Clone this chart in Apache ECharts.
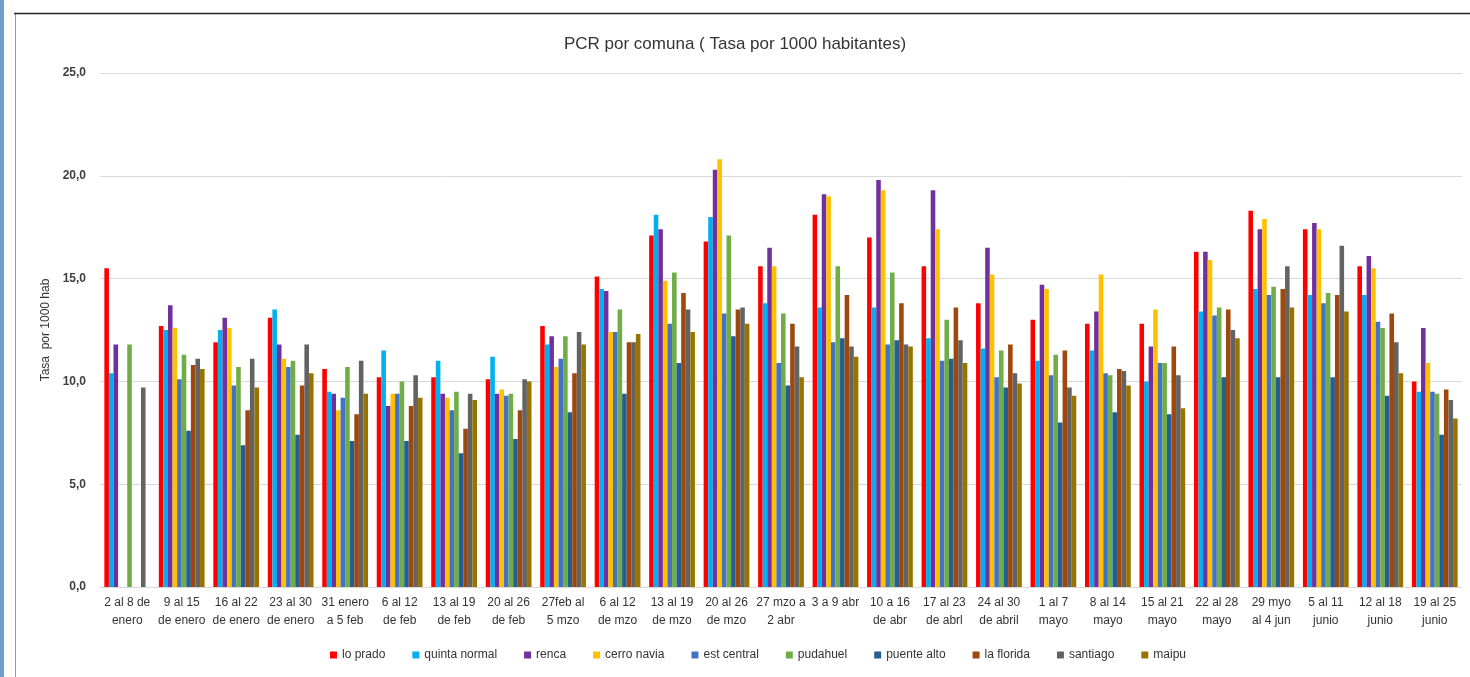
<!DOCTYPE html>
<html>
<head>
<meta charset="utf-8">
<script src="https://cdn.jsdelivr.net/npm/echarts@6/dist/echarts.min.js"></script>
<style>
  html, body { margin: 0; padding: 0; background: #fff; }
  #chart { width: 1470px; height: 677px; }
</style>
</head>
<body>
<div id="chart"></div>
<script>
// semanas (eje x)
var semanas = [
  '2 al 8 de\nenero', '9 al 15\nde enero', '16 al 22\nde enero', '23 al 30\nde enero',
  '31 enero\na 5 feb', '6 al 12\nde feb', '13 al 19\nde feb', '20 al 26\nde feb',
  '27feb al\n5 mzo', '6 al 12\nde mzo', '13 al 19\nde mzo', '20 al 26\nde mzo',
  '27 mzo a\n2 abr', '3 a 9 abr', '10 a 16\nde abr', '17 al 23\nde abrl',
  '24 al 30\nde abril', '1 al 7\nmayo', '8 al 14\nmayo', '15 al 21\nmayo',
  '22 al 28\nmayo', '29 myo\nal 4 jun', '5 al 11\njunio', '12 al 18\njunio', '19 al 25\njunio'
];
var comunas = ['lo prado', 'quinta normal', 'renca', 'cerro navia', 'est central',
  'pudahuel', 'puente alto', 'la florida', 'santiago', 'maipu'];
var colores = ['#ff0000', '#00b0f0', '#7030a0', '#ffc000', '#4472c4',
  '#70ad47', '#255e91', '#9e480e', '#636363', '#997300'];

// tasa por 1000 habitantes, una lista por comuna
var loPrado      = [15.5, 12.7, 11.9, 13.1, 10.6, 10.2, 10.2, 10.1, 12.7, 15.1, 17.1, 16.8, 15.6, 18.1, 17.0, 15.6, 13.8, 13.0, 12.8, 12.8, 16.3, 18.3, 17.4, 15.6, 10.0];
var quintaNormal = [10.4, 12.5, 12.5, 13.5, 9.5, 11.5, 11.0, 11.2, 11.8, 14.5, 18.1, 18.0, 13.8, 13.6, 13.6, 12.1, 11.6, 11.0, 11.5, 10.0, 13.4, 14.5, 14.2, 14.2, 9.5];
var renca        = [11.8, 13.7, 13.1, 11.8, 9.4, 8.8, 9.4, 9.4, 12.2, 14.4, 17.4, 20.3, 16.5, 19.1, 19.8, 19.3, 16.5, 14.7, 13.4, 11.7, 16.3, 17.4, 17.7, 16.1, 12.6];
var cerroNavia   = [null, 12.6, 12.6, 11.1, 8.6, 9.4, 9.2, 9.6, 10.7, 12.4, 14.9, 20.8, 15.6, 19.0, 19.3, 17.4, 15.2, 14.5, 15.2, 13.5, 15.9, 17.9, 17.4, 15.5, 10.9];
var estCentral   = [null, 10.1, 9.8, 10.7, 9.2, 9.4, 8.6, 9.3, 11.1, 12.4, 12.8, 13.3, 10.9, 11.9, 11.8, 11.0, 10.2, 10.3, 10.4, 10.9, 13.2, 14.2, 13.8, 12.9, 9.5];
var pudahuel     = [11.8, 11.3, 10.7, 11.0, 10.7, 10.0, 9.5, 9.4, 12.2, 13.5, 15.3, 17.1, 13.3, 15.6, 15.3, 13.0, 11.5, 11.3, 10.3, 10.9, 13.6, 14.6, 14.3, 12.6, 9.4];
var puenteAlto   = [null, 7.6, 6.9, 7.4, 7.1, 7.1, 6.5, 7.2, 8.5, 9.4, 10.9, 12.2, 9.8, 12.1, 12.0, 11.1, 9.7, 8.0, 8.5, 8.4, 10.2, 10.2, 10.2, 9.3, 7.4];
var laFlorida    = [null, 10.8, 8.6, 9.8, 8.4, 8.8, 7.7, 8.6, 10.4, 11.9, 14.3, 13.5, 12.8, 14.2, 13.8, 13.6, 11.8, 11.5, 10.6, 11.7, 13.5, 14.5, 14.2, 13.3, 9.6];
var santiago     = [9.7, 11.1, 11.1, 11.8, 11.0, 10.3, 9.4, 10.1, 12.4, 11.9, 13.5, 13.6, 11.7, 11.7, 11.8, 12.0, 10.4, 9.7, 10.5, 10.3, 12.5, 15.6, 16.6, 11.9, 9.1];
var maipu        = [null, 10.6, 9.7, 10.4, 9.4, 9.2, 9.1, 10.0, 11.8, 12.3, 12.4, 12.8, 10.2, 11.2, 11.7, 10.9, 9.9, 9.3, 9.8, 8.7, 12.1, 13.6, 13.4, 10.4, 8.2];

var datos = [loPrado, quintaNormal, renca, cerroNavia, estCentral,
  pudahuel, puenteAlto, laFlorida, santiago, maipu];

var fuente = '"Liberation Sans Narrow", "Liberation Sans", sans-serif';

var series = comunas.map(function (nombre, i) {
  return {
    name: nombre,
    type: 'bar',
    data: datos[i],
    barGap: 0,
    barCategoryGap: '16%',
    itemStyle: { color: colores[i] }
  };
});

var myChart = echarts.init(document.getElementById('chart'));
var option = {
  animation: false,
  backgroundColor: '#fff',
  title: {
    text: 'PCR por comuna ( Tasa por 1000 habitantes)',
    left: 'center',
    top: 31,
    textStyle: { fontFamily: fuente, fontSize: 17, fontWeight: 'normal', color: '#333' }
  },
  graphic: [
    // marco de la imagen original
    { type: 'rect', shape: { x: 0, y: 0, width: 4, height: 677 }, style: { fill: '#6f9fcc' } },
    { type: 'line', shape: { x1: 15.5, y1: 13, x2: 15.5, y2: 677 }, style: { stroke: '#9a9a9a', lineWidth: 1 } },
    { type: 'line', shape: { x1: 14, y1: 13.5, x2: 1470, y2: 13.5 }, style: { stroke: '#222', lineWidth: 1.5 } }
  ],
  legend: {
    data: comunas,
    bottom: 11,
    left: 325,
    itemWidth: 7,
    itemHeight: 7,
    itemGap: 27,
    icon: 'rect',
    textStyle: { fontFamily: fuente, fontSize: 12, color: '#333' }
  },
  grid: { left: 100, right: 8, top: 73, bottom: 90 },
  xAxis: {
    type: 'category',
    data: semanas,
    axisLine: { lineStyle: { color: '#d9d9d9' } },
    axisTick: { show: false },
    axisLabel: {
      interval: 0,
      margin: 7,
      lineHeight: 18,
      fontFamily: fuente,
      fontSize: 12,
      color: '#333'
    }
  },
  yAxis: {
    type: 'value',
    min: 0,
    max: 25,
    interval: 5,
    name: 'Tasa  por 1000 hab',
    nameLocation: 'middle',
    nameGap: 47,
    nameTextStyle: { fontFamily: fuente, fontSize: 12, color: '#333' },
    axisLine: { show: false },
    axisTick: { show: false },
    splitLine: { lineStyle: { color: '#d9d9d9' } },
    axisLabel: {
      margin: 14,
      fontFamily: fuente,
      fontSize: 12,
      fontWeight: 'bold',
      color: '#404040',
      formatter: function (v) { return v.toFixed(1).replace('.', ','); }
    }
  },
  series: series
};
myChart.setOption(option);
</script>
</body>
</html>
